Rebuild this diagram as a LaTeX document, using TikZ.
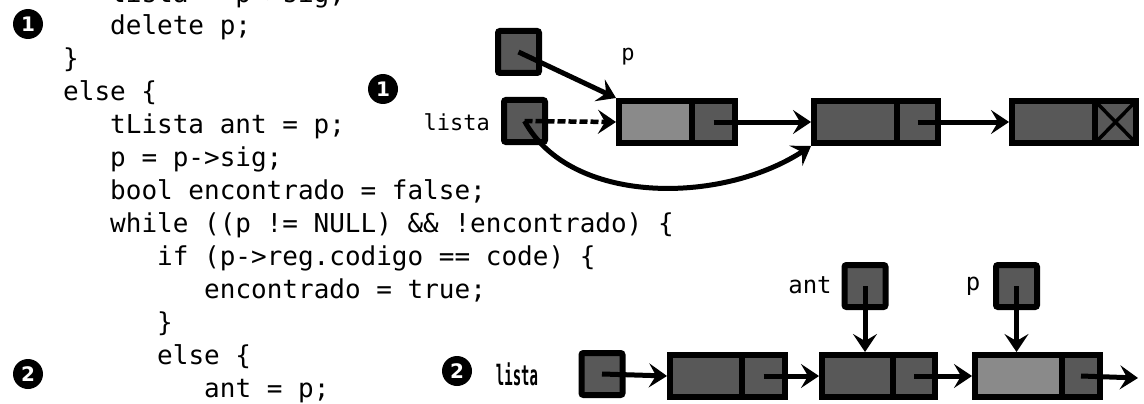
\documentclass[tikz,border=0pt]{standalone}
\usepackage{fontspec}
\setmonofont{DejaVu Sans Mono}
\setsansfont{DejaVu Sans}
\usepackage{graphicx}
\usetikzlibrary{arrows.meta}
\definecolor{dgray}{RGB}{88,88,88}
\definecolor{lgray}{RGB}{138,138,138}
\begin{document}
\begin{tikzpicture}[x=1pt,y=-1pt,
  code/.style={anchor=mid west, inner sep=0pt, font=\ttfamily\fontsize{26}{26}\selectfont},
  num/.style={circle, fill=black, text=white, inner sep=0pt, minimum size=30pt, font=\sffamily\bfseries\fontsize{20}{20}\selectfont},
  ptrvar/.style={draw, line width=6pt, fill=dgray, minimum width=41pt, minimum height=42pt, inner sep=0pt, rounded corners=2pt},
  cell/.style={draw, line width=6pt, fill=dgray, minimum height=42pt, inner sep=0pt},
  lab/.style={inner sep=0pt, font=\ttfamily\fontsize{22}{22}\selectfont},
  link/.style={line width=5pt, -{Stealth[length=18pt,width=24pt,inset=7pt]}},
  dlink/.style={link, dash pattern=on 8pt off 3pt, line width=4.5pt}
]
\useasboundingbox (0,0) rectangle (1144,404);
\clip (0,0) rectangle (1144,404);
\fill[white] (0,0) rectangle (1144,404);

% code
\node[code] (c1)  at (110,0)   {lista = p->sig;};
\node[code] (c2)  at (110,32)  {delete p;};
\node[code] (c3)  at (63,65)   {\}};
\node[code] (c4)  at (63,98)   {else \{};
\node[code] (c5)  at (110,131) {tLista ant = p;};
\node[code] (c6)  at (110,164) {p = p->sig;};
\node[code] (c7)  at (110,197) {bool encontrado = false;};
\node[code] (c8)  at (110,230) {while ((p != NULL) \&\& !encontrado) \{};
\node[code] (c9)  at (157,263) {if (p->reg.codigo == code) \{};
\node[code] (c10) at (204,296) {encontrado = true;};
\node[code] (c11) at (157,329) {\}};
\node[code] (c12) at (157,362) {else \{};
\node[code] (c13) at (204,395) {ant = p;};

% step markers
\node[num] (m1a) at (28,24)   {1};
\node[num] (m2a) at (28,374)  {2};
\node[num] (m1b) at (383,89)  {1};
\node[num] (m2b) at (457,371) {2};

% top diagram
\node[ptrvar] (pbox) at (518.5,52) {};
\node[ptrvar] (lbox) at (524.5,121) {};
\node[lab, anchor=east] (llab) at (490,122) {lista};
\node[lab] (plab) at (628,57) {p};
\node[cell, fill=lgray, minimum width=73pt] (n1d) at (655.5,122) {};
\node[cell, minimum width=43pt] (n1p) at (713.5,122) {};
\node[cell, minimum width=83pt] (n2d) at (855.5,122) {};
\node[cell, minimum width=41pt] (n2p) at (917.5,122) {};
\node[cell, minimum width=83pt] (n3d) at (1053.5,122) {};
\node[cell, minimum width=41pt] (n3p) at (1115.5,122) {};
\draw[line width=3.5pt] ([shift={(4pt,-4pt)}]n3p.north west) -- ([shift={(-4pt,4pt)}]n3p.south east);
\draw[line width=3.5pt] ([shift={(-4pt,-4pt)}]n3p.north east) -- ([shift={(4pt,4pt)}]n3p.south west);

\draw[link] (pbox.center) -- (n1d.north west);
\draw[dlink] (lbox.center) -- (n1d.west);
\draw[link] (n1p.center) -- (n2d.west);
\draw[link] (n2p.center) -- (n3d.west);
\draw[link] (lbox.center) .. controls (570,205) and (720,205) .. (n2d.south west);

% bottom diagram
\node[lab, font=\ttfamily\bfseries\fontsize{28}{28}\selectfont] (llab2) at (517,374) {\scalebox{0.5}[1]{lista}};
\node[ptrvar] (lbox2) at (602,374) {};
\node[cell, minimum width=72pt] (m1d) at (706,376) {};
\node[cell, minimum width=43pt] (m1p) at (763.5,376) {};
\node[cell, minimum width=71pt] (m2d) at (857.5,376) {};
\node[cell, minimum width=42pt] (m2p) at (914,376) {};
\node[cell, fill=lgray, minimum width=87pt] (m3d) at (1018.5,376) {};
\node[cell, minimum width=38pt] (m3p) at (1081,376) {};
\node[ptrvar] (antbox) at (865,286) {};
\node[ptrvar] (pbox2) at (1016.5,286) {};
\node[lab, font=\ttfamily\fontsize{24}{24}\selectfont] (antlab) at (810,285) {ant};
\node[lab, font=\ttfamily\fontsize{24}{24}\selectfont] (plab2) at (973,286) {p};
\coordinate (endp) at (1138,378);

\draw[link] (lbox2.center) -- (m1d.west);
\draw[link] (m1p.center) -- (m2d.west);
\draw[link] (m2p.center) -- (m3d.west);
\draw[link] (m3p.center) -- (endp);
\draw[link] (antbox.center) -- (antbox.center |- m2d.north);
\draw[link] (pbox2.center) -- (pbox2.center |- m3d.north);
\end{tikzpicture}
\end{document}
